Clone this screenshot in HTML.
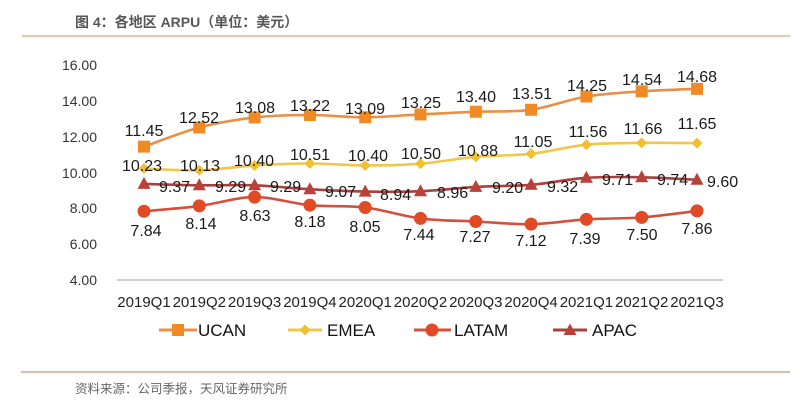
<!DOCTYPE html>
<html><head><meta charset="utf-8"><style>
html,body{margin:0;padding:0;background:#fff;}
svg{display:block;}
</style></head><body>
<svg id="c" width="800" height="405" viewBox="0 0 800 405" xmlns="http://www.w3.org/2000/svg">
<rect width="800" height="405" fill="#ffffff"/>
<text x="75" y="27" font-family="Liberation Sans, 'Noto Sans CJK SC', sans-serif" font-size="14" font-weight="bold" fill="#575757">图 4：各地区 ARPU（单位：美元）</text>
<line x1="22" y1="36" x2="790" y2="36" stroke="#c9b99c" stroke-width="1.4"/>
<line x1="22" y1="37.5" x2="790" y2="37.5" stroke="#fbf3e4" stroke-width="1.5"/>
<g font-family="Liberation Sans, sans-serif" font-size="14" fill="#333" text-anchor="end">
<text x="97" y="70">16.00</text><text x="97" y="106">14.00</text><text x="97" y="142">12.00</text><text x="97" y="178">10.00</text><text x="97" y="213">8.00</text><text x="97" y="249">6.00</text><text x="97" y="285">4.00</text>
</g>
<line x1="117" y1="280" x2="723" y2="280" stroke="#bdbdbd" stroke-width="1.5"/>
<g font-family="Liberation Sans, sans-serif" font-size="15" fill="#222" text-anchor="middle">
<text x="144" y="307">2019Q1</text><text x="199.3" y="307">2019Q2</text><text x="254.6" y="307">2019Q3</text><text x="309.9" y="307">2019Q4</text><text x="365.2" y="307">2020Q1</text><text x="420.5" y="307">2020Q2</text><text x="475.8" y="307">2020Q3</text><text x="531.1" y="307">2020Q4</text><text x="586.4" y="307">2021Q1</text><text x="641.7" y="307">2021Q2</text><text x="697" y="307">2021Q3</text>
</g>
<path id="pU" fill="none" stroke="#ea8f45" stroke-width="2.6" d="M144,146.6 L199.3,127.5 L254.6,117.5 L309.9,115 L365.2,117.3 L420.5,114.4 L475.8,111.7 L531.1,109.8 L586.4,96.5 L641.7,91.3 L697,88.8"/>
<path id="pE" fill="none" stroke="#f2c64a" stroke-width="2.6" d="M144,168.5 L199.3,170.3 L254.6,165.4 L309.9,163.5 L365.2,165.4 L420.5,163.7 L475.8,156.8 L531.1,153.8 L586.4,144.7 L641.7,142.9 L697,143.1"/>
<path id="pA" fill="none" stroke="#a8403e" stroke-width="2.6" d="M144,183.9 L199.3,185.3 L254.6,185.3 L309.9,189.2 L365.2,191.6 L420.5,191.2 L475.8,186.9 L531.1,184.8 L586.4,177.8 L641.7,177.3 L697,179.8"/>
<path id="pL" fill="none" stroke="#d5503c" stroke-width="2.6" d="M144,211.3 L199.3,205.9 L254.6,197.1 L309.9,205.2 L365.2,207.5 L420.5,218.4 L475.8,221.5 L531.1,224.2 L586.4,219.3 L641.7,217.4 L697,210.9"/>
<g id="markers"></g>
<g font-family="Liberation Sans, sans-serif" font-size="16" fill="#1a1a1a" text-anchor="middle">
<text x="144" y="136">11.45</text><text x="199" y="123">12.52</text><text x="255" y="113">13.08</text><text x="310" y="111">13.22</text><text x="365" y="114">13.09</text><text x="421" y="108">13.25</text><text x="476" y="102">13.40</text><text x="532" y="99">13.51</text><text x="587" y="91">14.25</text><text x="642" y="85">14.54</text><text x="697" y="82">14.68</text>
<text x="142" y="171">10.23</text><text x="200" y="171">10.13</text><text x="254" y="166">10.40</text><text x="310" y="160">10.51</text><text x="368" y="161">10.40</text><text x="421" y="159">10.50</text><text x="478" y="156">10.88</text><text x="533" y="147">11.05</text><text x="588" y="137">11.56</text><text x="643" y="134">11.66</text><text x="697" y="129">11.65</text>
<text x="146" y="236">7.84</text><text x="201" y="229">8.14</text><text x="255" y="221">8.63</text><text x="310" y="227">8.18</text><text x="365" y="232">8.05</text><text x="419" y="240">7.44</text><text x="475" y="242">7.27</text><text x="531" y="246">7.12</text><text x="585" y="244">7.39</text><text x="642" y="240">7.50</text><text x="697" y="234">7.86</text>
</g>
<g font-family="Liberation Sans, sans-serif" font-size="16" fill="#1a1a1a" text-anchor="start">
<text x="159" y="192">9.37</text><text x="215" y="192">9.29</text><text x="270" y="192">9.29</text><text x="325" y="197">9.07</text><text x="380" y="200">8.94</text><text x="437" y="198">8.96</text><text x="492" y="193">9.20</text><text x="547" y="192">9.32</text><text x="602" y="185">9.71</text><text x="657" y="185">9.74</text><text x="707" y="187">9.60</text>
</g>
<!-- legend -->
<line x1="159" y1="330" x2="197" y2="330" stroke="#ea8f45" stroke-width="3"/>
<rect x="172" y="324" width="12" height="12" fill="#f08a24"/>
<text x="198" y="336" font-family="Liberation Sans, sans-serif" font-size="17" fill="#111">UCAN</text>
<line x1="288" y1="330" x2="322" y2="330" stroke="#f2c64a" stroke-width="3"/>
<polygon points="305,324.5 310.5,330 305,335.5 299.5,330" fill="#f0c030"/>
<text x="327" y="336" font-family="Liberation Sans, sans-serif" font-size="17" fill="#111">EMEA</text>
<line x1="414" y1="330" x2="451" y2="330" stroke="#d5503c" stroke-width="3"/>
<circle cx="432" cy="330" r="6.5" fill="#e04a25"/>
<text x="454" y="336" font-family="Liberation Sans, sans-serif" font-size="17" fill="#111">LATAM</text>
<line x1="553" y1="330" x2="587" y2="330" stroke="#a8403e" stroke-width="3"/>
<polygon points="570,323.5 576.5,335 563.5,335" fill="#b8423a"/>
<text x="592" y="336" font-family="Liberation Sans, sans-serif" font-size="17" fill="#111">APAC</text>
<line x1="21" y1="372" x2="790" y2="372" stroke="#b9ab98" stroke-width="1.4"/>
<line x1="21" y1="373.5" x2="790" y2="373.5" stroke="#fbf3e4" stroke-width="1.5"/>
<text x="75" y="393" font-family="Liberation Sans, 'Noto Sans CJK SC', sans-serif" font-size="12.5" fill="#666">资料来源：公司季报，天风证券研究所</text>
</svg>
<script>
(function(){
var xs=[];for(var i=0;i<11;i++)xs.push(144+55.3*i);
function y(v){return 280-(v-4)*17.9;}
var S={
U:[11.45,12.52,13.08,13.22,13.09,13.25,13.40,13.51,14.25,14.54,14.68],
E:[10.23,10.13,10.40,10.51,10.40,10.50,10.88,11.05,11.56,11.66,11.65],
A:[9.37,9.29,9.29,9.07,8.94,8.96,9.20,9.32,9.71,9.74,9.60],
L:[7.84,8.14,8.63,8.18,8.05,7.44,7.27,7.12,7.39,7.50,7.86]};
function smooth(vals){
var p=vals.map(function(v,i){return [xs[i],y(v)];});
var d="M"+p[0][0].toFixed(1)+","+p[0][1].toFixed(1);
for(var i=0;i<p.length-1;i++){
var p0=p[i>0?i-1:i],p1=p[i],p2=p[i+1],p3=p[i+2<p.length?i+2:i+1];
var t=6;
var c1=[p1[0]+(p2[0]-p0[0])/t,p1[1]+(p2[1]-p0[1])/t];
var c2=[p2[0]-(p3[0]-p1[0])/t,p2[1]-(p3[1]-p1[1])/t];
d+=" C"+c1[0].toFixed(1)+","+c1[1].toFixed(1)+" "+c2[0].toFixed(1)+","+c2[1].toFixed(1)+" "+p2[0].toFixed(1)+","+p2[1].toFixed(1);
}
return d;}
["U","E","A","L"].forEach(function(k){document.getElementById("p"+k).setAttribute("d",smooth(S[k]));});
var ns="http://www.w3.org/2000/svg",g=document.getElementById("markers");
function el(t,a){var e=document.createElementNS(ns,t);for(var k in a)e.setAttribute(k,a[k]);g.appendChild(e);}
for(var i=0;i<11;i++){
var x=xs[i];
el("rect",{x:x-6,y:y(S.U[i])-6,width:12,height:12,fill:"#f08a24"});
var ye=y(S.E[i]);
el("polygon",{points:x+","+(ye-5.5)+" "+(x+5.5)+","+ye+" "+x+","+(ye+5.5)+" "+(x-5.5)+","+ye,fill:"#f0c030"});
var ya=y(S.A[i]);
el("polygon",{points:x+","+(ya-7)+" "+(x+6.5)+","+(ya+5)+" "+(x-6.5)+","+(ya+5),fill:"#b8423a"});
el("circle",{cx:x,cy:y(S.L[i]),r:6.5,fill:"#e04a25"});
}
})();
</script>
</body></html>
